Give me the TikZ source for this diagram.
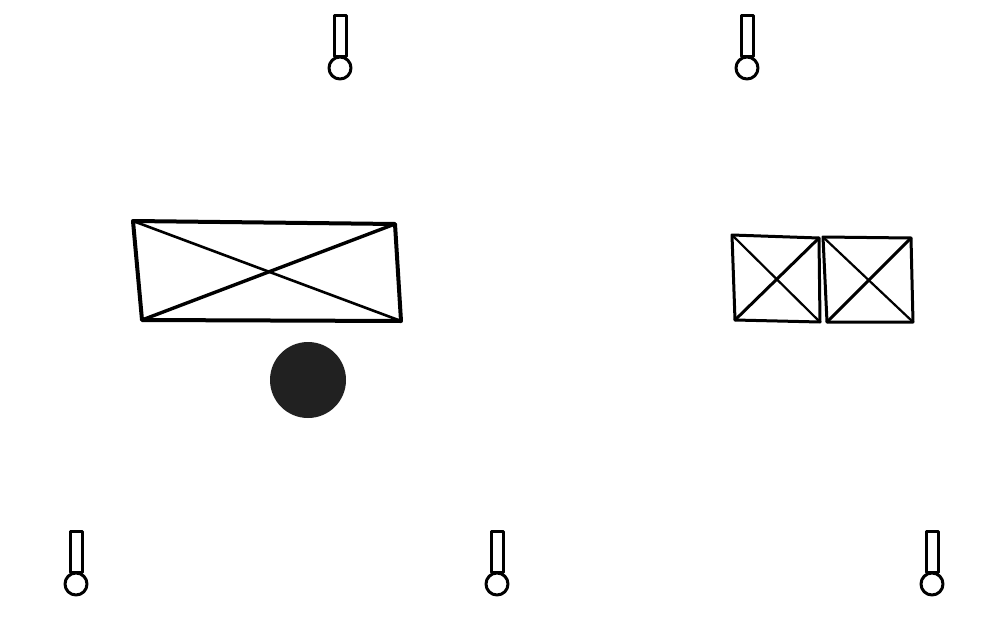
\documentclass[tikz,border=0pt]{standalone}
\begin{document}
\begin{tikzpicture}[x=1pt,y=-1pt,line join=round,line cap=round,
  frame/.style={draw=black,line width=4pt},
  xline/.style={draw=black,line width=2.6pt},
  pin/.pic={
    \draw[line width=3pt,fill=white] (-6,-53) rectangle (6,-12);
    \draw[line width=3pt,fill=white] (0,0) circle (11);
  }]
\useasboundingbox (0,0) rectangle (994,624);
\fill[white] (0,0) rectangle (994,624);
% pins (circle centres)
\pic at (340,68) {pin};
\pic at (747,68) {pin};
\pic at (76,584) {pin};
\pic at (497,584) {pin};
\pic at (932,584) {pin};
% large crossed box
\coordinate (a1) at (133,221);
\coordinate (a2) at (395,224);
\coordinate (a3) at (401,321);
\coordinate (a4) at (142,320);
\draw[frame] (a1) -- (a2) -- (a3) -- (a4) -- cycle;
\draw[xline] (a1) -- (a3);
\draw[xline,line width=3.4pt] (a4) -- (a2);
% small crossed boxes
\coordinate (b1) at (732,235);
\coordinate (b2) at (819,238);
\coordinate (b3) at (820,322);
\coordinate (b4) at (735,320);
\draw[frame,line width=3pt] (b1) -- (b2) -- (b3) -- (b4) -- cycle;
\draw[xline,line width=2.2pt] (b1) -- (b3);
\draw[xline,line width=3pt] (b4) -- (b2);
\coordinate (c1) at (823,237);
\coordinate (c2) at (911,238);
\coordinate (c3) at (913,322);
\coordinate (c4) at (827,322);
\draw[frame,line width=3pt] (c1) -- (c2) -- (c3) -- (c4) -- cycle;
\draw[xline,line width=2.2pt] (c1) -- (c3);
\draw[xline,line width=3pt] (c4) -- (c2);
% dot
\fill[black!87] (308,380) circle (38);
\end{tikzpicture}
\end{document}
